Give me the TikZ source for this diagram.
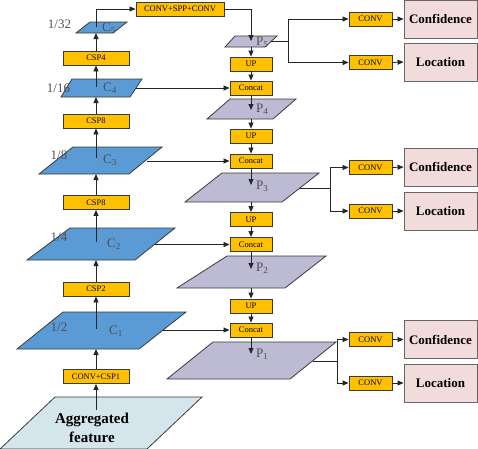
\documentclass[tikz,border=0pt]{standalone}
\usepackage{fontspec}
\setmainfont{Liberation Serif}
\usetikzlibrary{arrows.meta}
\definecolor{orng}{HTML}{FFC000}
\definecolor{cblue}{HTML}{5B9BD5}
\definecolor{plav}{HTML}{BDBAD3}
\definecolor{pinkb}{HTML}{F2DCDB}
\definecolor{aggc}{HTML}{D5E5EC}
\definecolor{edge}{HTML}{3A3A3A}
\definecolor{lblc}{HTML}{505050}
\tikzset{
  box/.style={draw=edge, line width=0.9pt, fill=orng, inner sep=0pt, minimum height=14pt, font=\fontsize{8.5}{9}\selectfont},
  lbox/.style={box, minimum width=66pt},
  mbox/.style={box, minimum width=42pt},
  cbox/.style={box, minimum width=43pt},
  outbox/.style={draw=gray!80!black, line width=0.9pt, fill=pinkb, inner sep=0pt, minimum width=73pt, minimum height=38pt, font=\fontsize{13}{14}\selectfont\bfseries},
  para/.style={draw=edge, line width=0.8pt},
  lbl/.style={text=lblc, inner sep=0pt, font=\fontsize{13}{14}\selectfont},
  arr/.style={-{Triangle[length=6pt,width=5pt]}, line width=0.8pt, draw=black!85},
  ln/.style={line width=0.8pt, draw=black!85},
}
\newcommand{\parlg}[7]{\filldraw[para,fill=#7] (#1,#5) -- (#2,#5) -- (#4,#6) -- (#3,#6) -- cycle;}
\begin{document}
\begin{tikzpicture}[x=1pt,y=-1pt]
\useasboundingbox (0,0) rectangle (478,448);
% ---------- left column parallelograms
\parlg{90}{127}{76}{113}{22}{33}{cblue}
\parlg{72}{142}{61}{130}{79}{97}{cblue}
\parlg{73}{162}{39}{129}{147}{174}{cblue}
\parlg{70}{175}{27}{135}{228}{260}{cblue}
\parlg{63}{186}{17}{139}{312}{349}{cblue}
\parlg{55}{202}{0}{147}{397}{449}{aggc}
% ---------- middle column parallelograms
\parlg{235}{277}{225}{265}{36}{47}{plav}
\parlg{230}{296}{207}{273}{99}{119}{plav}
\parlg{222}{319}{185}{282}{173}{202}{plav}
\parlg{227}{326}{177}{285}{256}{288}{plav}
\parlg{213}{336}{167}{290}{342}{379}{plav}
% ---------- coordinates
\coordinate (aggp) at (96,410);
\coordinate (c1b) at (96,349); \coordinate (c1p) at (96,329); \coordinate (c1r) at (163,330);
\coordinate (c2b) at (96,260); \coordinate (c2p) at (96,242); \coordinate (c2r) at (155,244.5);
\coordinate (c3b) at (96,174); \coordinate (c3p) at (96,158); \coordinate (c3r) at (147,161);
\coordinate (c4b) at (96,97);  \coordinate (c4p) at (96,87);  \coordinate (c4r) at (136,88);
\coordinate (c5b) at (96,33);  \coordinate (c5p) at (96,27);
\coordinate (p5t) at (251,41); \coordinate (p5b) at (251,47); \coordinate (p5r) at (271,41); \coordinate (br5) at (288,41);
\coordinate (p4t) at (251,110); \coordinate (p4b) at (251,119);
\coordinate (p3t) at (251,185); \coordinate (p3b) at (251,202); \coordinate (p3r) at (300,188); \coordinate (br3) at (330,188);
\coordinate (p2t) at (251,269); \coordinate (p2b) at (251,288);
\coordinate (p1t) at (251,354); \coordinate (p1r) at (312.5,361); \coordinate (br1) at (337,361);
% ---------- labels
\node[lbl, anchor=west] (lc5) at (102,28) {C\textsubscript{5}};
\node[lbl, anchor=west] (lc4) at (103,88) {C\textsubscript{4}};
\node[lbl, anchor=west] (lc3) at (103,160) {C\textsubscript{3}};
\node[lbl, anchor=west] (lc2) at (107,244) {C\textsubscript{2}};
\node[lbl, anchor=west] (lc1) at (109,331) {C\textsubscript{1}};
\node[lbl] (f32) at (59.5,24) {1/32};
\node[lbl] (f16) at (58.5,88) {1/16};
\node[lbl] (f8) at (59,155) {1/8};
\node[lbl] (f4) at (59,237) {1/4};
\node[lbl] (f2) at (59,327) {1/2};
\node[lbl, anchor=west] (lp5) at (256,42) {P\textsubscript{5}};
\node[lbl, anchor=west] (lp4) at (256,109) {P\textsubscript{4}};
\node[lbl, anchor=west] (lp3) at (256,186) {P\textsubscript{3}};
\node[lbl, anchor=west] (lp2) at (256,268) {P\textsubscript{2}};
\node[lbl, anchor=west] (lp1) at (256,354) {P\textsubscript{1}};
\node[align=center, inner sep=0pt, font=\fontsize{15}{19}\selectfont\bfseries] (aggt) at (92,428) {Aggregated\\feature};
% ---------- left boxes
\node[lbox] (csp4) at (96,58) {CSP4};
\node[lbox] (csp8a) at (96,121) {CSP8};
\node[lbox] (csp8b) at (96,202.5) {CSP8};
\node[lbox] (csp2) at (96,289) {CSP2};
\node[lbox] (conv1) at (96,376.5) {CONV+CSP1};
\node[box, minimum width=88pt] (spp) at (180,9) {CONV+SPP+CONV};
% ---------- middle boxes
\node[mbox] (up5) at (251,64) {UP};
\node[mbox] (cat4) at (251,88) {Concat};
\node[mbox] (up4) at (251,136) {UP};
\node[mbox] (cat3) at (251,161) {Concat};
\node[mbox] (up3) at (251,219.5) {UP};
\node[mbox] (cat2) at (251,244.5) {Concat};
\node[mbox] (up2) at (251,306) {UP};
\node[mbox] (cat1) at (251,330) {Concat};
% ---------- heads
\node[cbox] (cv5a) at (370.5,19) {CONV};
\node[cbox] (cv5b) at (370.5,62.5) {CONV};
\node[cbox] (cv3a) at (370.5,167.5) {CONV};
\node[cbox] (cv3b) at (370.5,211) {CONV};
\node[cbox] (cv1a) at (370.5,339.5) {CONV};
\node[cbox] (cv1b) at (370.5,383) {CONV};
\node[outbox] (cf5) at (440.5,19) {Confidence};
\node[outbox] (lo5) at (440.5,62) {Location};
\node[outbox] (cf3) at (440.5,167) {Confidence};
\node[outbox] (lo3) at (440.5,211) {Location};
\node[outbox] (cf1) at (440.5,339.5) {Confidence};
\node[outbox] (lo1) at (440.5,383) {Location};
% ---------- left connectors
\draw[arr] (aggp) -- (conv1.south);
\draw[arr] (conv1.north) -- (c1b);
\draw[arr] (c1p) -- (csp2.south);
\draw[arr] (csp2.north) -- (c2b);
\draw[arr] (c2p) -- (csp8b.south);
\draw[arr] (csp8b.north) -- (c3b);
\draw[arr] (c3p) -- (csp8a.south);
\draw[arr] (csp8a.north) -- (c4b);
\draw[arr] (c4p) -- (csp4.south);
\draw[arr] (csp4.north) -- (c5b);
\draw[arr] (c5p) |- (spp.west);
\draw[arr] (spp.east) -| (p5t);
% ---------- middle connectors
\draw[arr] (p5b) -- (up5.north);
\draw[arr] (up5.south) -- (cat4.north);
\draw[arr] (c4r) -- (cat4.west);
\draw[arr] (cat4.south) -- (p4t);
\draw[arr] (p4b) -- (up4.north);
\draw[arr] (up4.south) -- (cat3.north);
\draw[arr] (c3r) -- (cat3.west);
\draw[arr] (cat3.south) -- (p3t);
\draw[arr] (p3b) -- (up3.north);
\draw[arr] (up3.south) -- (cat2.north);
\draw[arr] (c2r) -- (cat2.west);
\draw[arr] (cat2.south) -- (p2t);
\draw[arr] (p2b) -- (up2.north);
\draw[arr] (up2.south) -- (cat1.north);
\draw[arr] (c1r) -- (cat1.west);
\draw[arr] (cat1.south) -- (p1t);
% ---------- head connectors
\draw[ln] (p5r) -- (br5);
\draw[arr] (br5) |- (cv5a.west);
\draw[arr] (br5) |- (cv5b.west);
\draw[ln] (p3r) -- (br3);
\draw[arr] (br3) |- (cv3a.west);
\draw[arr] (br3) |- (cv3b.west);
\draw[ln] (p1r) -- (br1);
\draw[arr] (br1) |- (cv1a.west);
\draw[arr] (br1) |- (cv1b.west);
\draw[arr] (cv5a.east) -- (cf5.west);
\draw[arr] (cv5b.east) -- (lo5.west);
\draw[arr] (cv3a.east) -- (cf3.west);
\draw[arr] (cv3b.east) -- (lo3.west);
\draw[arr] (cv1a.east) -- (cf1.west);
\draw[arr] (cv1b.east) -- (lo1.west);
\end{tikzpicture}
\end{document}
